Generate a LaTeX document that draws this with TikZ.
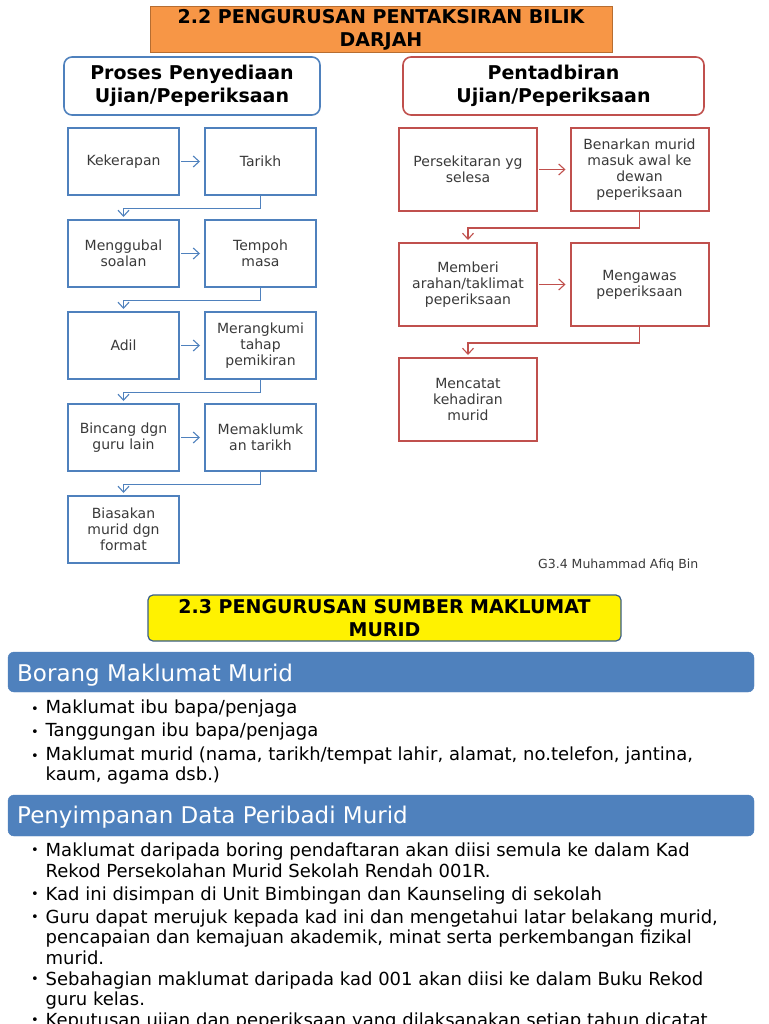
\documentclass[tikz,border=0pt]{standalone}
\usepackage{fontspec}
\setmainfont{DejaVu Sans}
\usepackage{tikz}
\usetikzlibrary{positioning, arrows.meta}
\definecolor{TitleOrange}{RGB}{247,150,70}
\definecolor{TitleEdge}{RGB}{182,109,49}
\definecolor{FlowBlue}{RGB}{79,129,189}
\definecolor{FlowRed}{RGB}{192,80,77}
\definecolor{BannerEdge}{RGB}{56,93,138}
\definecolor{FlowText}{RGB}{58,58,58}
\newcommand{\titlefont}{\bfseries\fontsize{19}{23}\selectfont}
\newcommand{\flowfont}{\fontsize{14}{16}\selectfont}
\newcommand{\bannerfont}{\fontsize{23}{26}\selectfont}
\newcommand{\itemfont}{\fontsize{18}{20.5}\selectfont}
\newcommand{\itemlines}[1]{\parbox[t]{715pt}{\raggedright #1}}

\begin{document}
\begin{tikzpicture}[x=1pt, y=-1pt, >={Straight Barb[length=6pt,width=11pt]},
    lbox/.style={draw=FlowBlue, line width=2pt, fill=white, minimum width=111pt, minimum height=67pt, inner sep=2pt, align=center, font=\flowfont, text=FlowText},
    rbox/.style={draw=FlowRed, line width=2pt, fill=white, minimum width=138pt, minimum height=83pt, inner sep=2pt, align=center, font=\flowfont, text=FlowText},
    larrow/.style={->, FlowBlue, line width=1.1pt},
    rarrow/.style={->, FlowRed, line width=1.1pt},
    banner/.style={fill=FlowBlue, draw=FlowBlue, rounded corners=6pt},
    bullet/.style={anchor=base west, inner sep=0pt, font=\fontsize{13}{15}\selectfont},
    itemtext/.style={anchor=base west, inner sep=0pt, font=\itemfont}]
    \useasboundingbox (0,0) rectangle (768,1024);
    \def\lxa{123.5} \def\lxb{260.5}
    \def\rxa{468} \def\rxb{639.5}
    % Title
    \node[draw=TitleEdge, fill=TitleOrange, line width=1pt, minimum width=462pt, minimum height=46pt, inner sep=0pt, align=center, font=\titlefont] (title) at (381,30) {2.2 PENGURUSAN PENTAKSIRAN BILIK\\DARJAH};
    % Column headers
    \node[draw=FlowBlue, line width=1.6pt, rounded corners=8pt, minimum width=256pt, minimum height=58pt, align=center, font=\titlefont] (penyediaan) at (192,86) {Proses Penyediaan\\Ujian/Peperiksaan};
    \node[draw=FlowRed, line width=1.6pt, rounded corners=8pt, minimum width=301pt, minimum height=58pt, align=center, font=\titlefont] (pentadbiran) at (553.5,86) {Pentadbiran\\Ujian/Peperiksaan};
    % Left flow
    \node[lbox] (kekerapan) at (\lxa,161.5) {Kekerapan};
    \node[lbox] (tarikh) at (\lxb,161.5) {Tarikh};
    \node[lbox] (menggubal) at (\lxa,253.5) {Menggubal\\soalan};
    \node[lbox] (tempoh) at (\lxb,253.5) {Tempoh\\masa};
    \node[lbox] (adil) at (\lxa,345.5) {Adil};
    \node[lbox] (merangkumi) at (\lxb,345.5) {Merangkumi\\tahap\\pemikiran};
    \node[lbox] (bincang) at (\lxa,437.5) {Bincang dgn\\guru lain};
    \node[lbox] (memaklum) at (\lxb,437.5) {Memaklumk\\an tarikh};
    \node[lbox] (biasakan) at (\lxa,529.5) {Biasakan\\murid dgn\\format};
    \foreach \a/\b in {kekerapan/tarikh, menggubal/tempoh, adil/merangkumi, bincang/memaklum} {
        \draw[larrow, shorten <=1pt, shorten >=4pt] (\a.east) -- (\b.west);
    }
    \foreach \a/\b in {tarikh/menggubal, tempoh/adil, merangkumi/bincang, memaklum/biasakan} {
        \draw[larrow, shorten >=2pt] (\a.south) -- ++(0,12.5) -| (\b.north);
    }
    % Right flow
    \node[rbox] (persekitaran) at (\rxa,169.5) {Persekitaran yg\\selesa};
    \node[rbox] (benarkan) at (\rxb,169.5) {Benarkan murid\\masuk awal ke\\dewan\\peperiksaan};
    \node[rbox] (memberi) at (\rxa,284.5) {Memberi\\arahan/taklimat\\peperiksaan};
    \node[rbox] (mengawas) at (\rxb,284.5) {Mengawas\\peperiksaan};
    \node[rbox] (mencatat) at (\rxa,399.5) {Mencatat\\kehadiran\\murid};
    \foreach \a/\b in {persekitaran/benarkan, memberi/mengawas} {
        \draw[rarrow, shorten <=1pt, shorten >=4pt] (\a.east) -- (\b.west);
    }
    \foreach \a/\b in {benarkan/memberi, mengawas/mencatat} {
        \draw[rarrow, shorten >=2pt] (\a.south) -- ++(0,16) -| (\b.north);
    }
    % Footnote
    \node[anchor=base west, inner sep=0pt, font=\fontsize{12.5}{15}\selectfont, text=FlowText] (nama) at (538,568) {G3.4 Muhammad Afiq Bin};
    % Second title
    \node[draw=BannerEdge, fill=yellow, line width=1.2pt, rounded corners=5pt, minimum width=473pt, minimum height=46pt, inner sep=0pt, align=center, font=\titlefont] (title2) at (384.5,618) {2.3 PENGURUSAN SUMBER MAKLUMAT\\MURID};
    % Borang
    \fill[banner] (8,652) rectangle (754,692);
    \node[anchor=base west, inner sep=0pt, text=white, font=\bannerfont] (borang) at (17,681) {Borang Maklumat Murid};
    \node[bullet] (b1) at (31,713) {•};
    \node[itemtext] (i1) at (45.5,713) {Maklumat ibu bapa/penjaga};
    \node[bullet] (b2) at (31,736.7) {•};
    \node[itemtext] (i2) at (45.5,736.7) {Tanggungan ibu bapa/penjaga};
    \node[bullet] (b3) at (31,760) {•};
    \node[itemtext] (i3) at (45.5,760) {\itemlines{Maklumat murid (nama, tarikh/tempat lahir, alamat, no.telefon, jantina,\\kaum, agama dsb.)}};
    % Penyimpanan
    \fill[banner] (8,795) rectangle (754,836);
    \node[anchor=base west, inner sep=0pt, text=white, font=\bannerfont] (penyimpanan) at (17,823.3) {Penyimpanan Data Peribadi Murid};
    \node[bullet] (b4) at (31,854.7) {•};
    \node[itemtext] (i4) at (45.5,856.7) {\itemlines{Maklumat daripada boring pendaftaran akan diisi semula ke dalam Kad\\Rekod Persekolahan Murid Sekolah Rendah 001R.}};
    \node[bullet] (b5) at (31,898) {•};
    \node[itemtext] (i5) at (45.5,900) {Kad ini disimpan di Unit Bimbingan dan Kaunseling di sekolah};
    \node[bullet] (b6) at (31,921) {•};
    \node[itemtext] (i6) at (45.5,923) {\itemlines{Guru dapat merujuk kepada kad ini dan mengetahui latar belakang murid,\\pencapaian dan kemajuan akademik, minat serta perkembangan fizikal\\murid.}};
    \node[bullet] (b7) at (31,983) {•};
    \node[itemtext] (i7) at (45.5,985) {\itemlines{Sebahagian maklumat daripada kad 001 akan diisi ke dalam Buku Rekod\\guru kelas.}};
    \node[bullet] (b8) at (31,1024.7) {•};
    \node[itemtext] (i8) at (45.5,1026.7) {Keputusan ujian dan peperiksaan yang dilaksanakan setiap tahun dicatat};
\end{tikzpicture}
\end{document}
